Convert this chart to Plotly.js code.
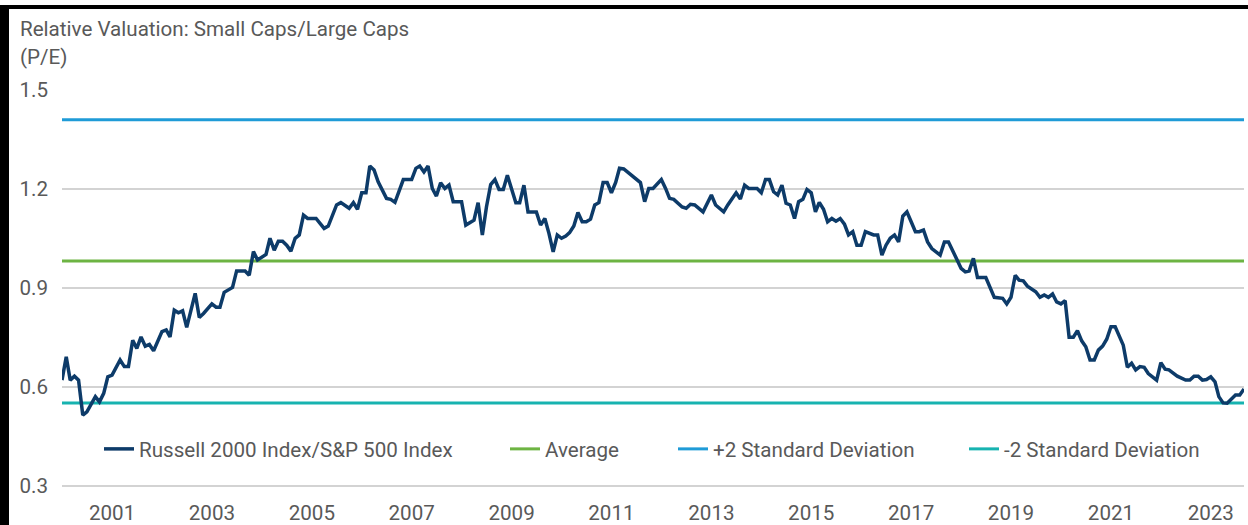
<!DOCTYPE html>
<html>
<head>
<meta charset="utf-8">
<script src="https://cdn.plot.ly/plotly-3.0.1.min.js"></script>
<style>
  html, body { margin: 0; padding: 0; background: #ffffff; }
  #wrap { position: relative; width: 1248px; height: 525px; overflow: hidden; }
  #chart { position: absolute; left: 0; top: 0; width: 1248px; height: 525px; }
  .frame { position: absolute; background: #000; }
</style>
</head>
<body>
<div id="wrap">
  <div id="chart"></div>
  <div class="frame" style="left:0;top:5px;width:1248px;height:4px;"></div>
  <div class="frame" style="left:0;top:5px;width:9px;height:520px;"></div>
</div>
<script>
var dates = [
  '2000-01','2000-02','2000-03','2000-04','2000-05','2000-06','2000-07','2000-09','2000-10','2000-11','2000-12',
  '2001-01','2001-03','2001-04','2001-05','2001-06','2001-07','2001-08','2001-09','2001-10','2001-11',
  '2002-01','2002-02','2002-03','2002-04','2002-05','2002-06','2002-07','2002-09','2002-10','2002-11',
  '2003-01','2003-02','2003-03','2003-04','2003-06','2003-07','2003-09','2003-10','2003-11','2003-12',
  '2004-01','2004-02','2004-03','2004-04','2004-05','2004-06','2004-07','2004-08','2004-09','2004-10','2004-11','2004-12',
  '2005-02','2005-04','2005-05','2005-07','2005-08','2005-10','2005-11','2005-12',
  '2006-01','2006-02','2006-03','2006-04','2006-05','2006-07','2006-08','2006-09','2006-11',
  '2007-01','2007-02','2007-03','2007-04','2007-05','2007-06','2007-07','2007-08','2007-09','2007-10','2007-11',
  '2008-01','2008-02','2008-04','2008-05','2008-06','2008-07','2008-08','2008-09','2008-10','2008-11','2008-12',
  '2009-01','2009-02','2009-03','2009-04','2009-05','2009-07','2009-08','2009-09','2009-10','2009-11','2009-12',
  '2010-01','2010-02','2010-03','2010-04','2010-05','2010-06','2010-07','2010-08','2010-09','2010-10','2010-11','2010-12',
  '2011-01','2011-02','2011-03','2011-04','2011-08','2011-09','2011-10','2011-11',
  '2012-01','2012-02','2012-03','2012-04','2012-06','2012-07','2012-08','2012-09','2012-11',
  '2013-01','2013-02','2013-04','2013-05','2013-07','2013-08','2013-09','2013-10','2013-12',
  '2014-01','2014-02','2014-03','2014-04','2014-05','2014-06','2014-07','2014-08','2014-09','2014-10','2014-11','2014-12',
  '2015-01','2015-02','2015-03','2015-04','2015-05','2015-06','2015-07','2015-08','2015-09','2015-10','2015-11','2015-12',
  '2016-01','2016-02','2016-04','2016-05','2016-06','2016-07','2016-08','2016-09','2016-10','2016-11','2016-12',
  '2017-01','2017-02','2017-03','2017-04','2017-05','2017-06','2017-08','2017-09','2017-10','2017-11','2017-12',
  '2018-01','2018-02','2018-03','2018-04','2018-05','2018-07','2018-08','2018-09','2018-11','2018-12',
  '2019-01','2019-02','2019-03','2019-04','2019-05','2019-07','2019-08','2019-09','2019-10','2019-11','2019-12',
  '2020-01','2020-02','2020-03','2020-04','2020-05','2020-06','2020-07','2020-08','2020-09','2020-10','2020-11','2020-12',
  '2021-01','2021-02','2021-03','2021-04','2021-05','2021-06','2021-07','2021-08','2021-09','2021-10','2021-12',
  '2022-01','2022-02','2022-03','2022-05','2022-07','2022-08','2022-09','2022-10','2022-11','2022-12',
  '2023-01','2023-02','2023-03','2023-04','2023-05','2023-07','2023-08','2023-09'
];
var ratio = [
  0.621,0.692,0.621,0.633,0.621,0.515,0.525,0.571,0.555,0.581,0.631,
  0.636,0.682,0.662,0.662,0.742,0.717,0.752,0.724,0.729,0.710,
  0.768,0.773,0.752,0.833,0.825,0.831,0.781,0.884,0.811,0.823,
  0.852,0.842,0.842,0.887,0.902,0.952,0.952,0.939,1.011,0.985,
  0.995,1.002,1.051,1.015,1.042,1.042,1.030,1.012,1.051,1.061,1.121,1.111,
  1.111,1.081,1.088,1.152,1.159,1.142,1.159,1.139,
  1.189,1.189,1.270,1.258,1.222,1.172,1.169,1.160,1.229,
  1.229,1.263,1.270,1.252,1.270,1.202,1.179,1.219,1.202,1.212,1.162,
  1.162,1.091,1.106,1.159,1.061,1.146,1.214,1.229,1.199,1.199,1.242,
  1.202,1.159,1.159,1.212,1.131,1.131,1.091,1.111,1.066,1.010,1.061,
  1.051,1.058,1.068,1.088,1.129,1.101,1.101,1.109,1.152,1.159,1.220,1.220,
  1.189,1.220,1.263,1.261,1.220,1.162,1.202,1.202,
  1.229,1.202,1.172,1.169,1.146,1.142,1.154,1.152,1.131,
  1.182,1.152,1.131,1.152,1.189,1.170,1.212,1.202,1.202,
  1.189,1.229,1.229,1.192,1.182,1.212,1.157,1.152,1.111,1.162,1.169,1.199,
  1.189,1.131,1.160,1.139,1.101,1.111,1.103,1.111,1.094,1.061,1.071,1.030,
  1.030,1.071,1.061,1.061,1.000,1.030,1.051,1.061,1.040,1.118,1.131,
  1.101,1.071,1.071,1.076,1.040,1.020,1.000,1.040,1.040,1.015,0.990,
  0.960,0.949,0.952,0.990,0.932,0.932,0.904,0.872,0.869,0.852,
  0.872,0.939,0.924,0.922,0.906,0.889,0.872,0.879,0.872,0.882,0.858,
  0.852,0.862,0.751,0.751,0.771,0.740,0.722,0.682,0.682,0.712,0.724,0.745,
  0.783,0.783,0.758,0.727,0.660,0.672,0.652,0.662,0.660,0.641,0.621,
  0.674,0.654,0.652,0.633,0.621,0.621,0.633,0.633,0.621,0.623,
  0.631,0.616,0.571,0.552,0.551,0.576,0.576,0.594
];
var averageValue = 0.982;
var plus2SD = 1.410;
var minus2SD = 0.552;

var seriesNames = ['Russell 2000 Index/S&P 500 Index', 'Average', '+2 Standard Deviation', '-2 Standard Deviation'];
var yTickVals = [0.3, 0.6, 0.9, 1.2, 1.5];
var yTickText = ['0.3', '0.6', '0.9', '1.2', '1.5'];
var xTickVals = ['2001-01-01','2003-01-01','2005-01-01','2007-01-01','2009-01-01','2011-01-01','2013-01-01','2015-01-01','2017-01-01','2019-01-01','2021-01-01','2023-01-01'];
var xTickText = ['2001','2003','2005','2007','2009','2011','2013','2015','2017','2019','2021','2023'];

var span = [dates[0], dates[dates.length - 1]];
var textColor = '#595959';
var font = 'Roboto, "Noto Sans", sans-serif';
var fs = 20.6;

var traces = [
  { x: span, y: [plus2SD, plus2SD], name: seriesNames[2], mode: 'lines', legend: 'legend3',
    line: { color: '#1f9bd7', width: 3 } },
  { x: span, y: [averageValue, averageValue], name: seriesNames[1], mode: 'lines', legend: 'legend2',
    line: { color: '#6db443', width: 3 } },
  { x: span, y: [minus2SD, minus2SD], name: seriesNames[3], mode: 'lines', legend: 'legend4',
    line: { color: '#17b3b0', width: 3 } },
  { x: dates, y: ratio, name: seriesNames[0], mode: 'lines', legend: 'legend',
    line: { color: '#0d3b69', width: 3.5 } }
];

function legendAt(x) {
  return { orientation: 'h', x: x, xanchor: 'left', y: 0.107, yanchor: 'middle',
    xref: 'paper', yref: 'paper', bgcolor: 'rgba(0,0,0,0)', itemwidth: 30,
    font: { family: font, size: fs, color: textColor } };
}

var layout = {
  width: 1248, height: 525,
  margin: { l: 62, r: 4, t: 90, b: 33 },
  paper_bgcolor: '#ffffff', plot_bgcolor: '#ffffff',
  font: { family: font, size: fs, color: textColor },
  title: { text: 'Relative Valuation: Small Caps/Large Caps', x: 20 / 1248, xanchor: 'left',
    xref: 'container', y: 1 - 29 / 525, yanchor: 'middle', yref: 'container',
    font: { family: font, size: fs, color: textColor } },
  annotations: [
    { text: '(P/E)', xref: 'paper', yref: 'paper', x: (18 - 62) / 1182, xanchor: 'left',
      y: (492 - 57) / 402, yanchor: 'middle', showarrow: false,
      font: { family: font, size: fs, color: textColor } }
  ],
  xaxis: { type: 'date', range: ['2000-01-01', '2023-09-01'], tickvals: xTickVals, ticktext: xTickText,
    showgrid: false, zeroline: false, showline: false, ticks: '', ticklabelstandoff: 6,
    tickfont: { family: font, size: fs, color: textColor } },
  yaxis: { range: [0.3 - 6 / 330, 1.5005], tickvals: yTickVals, ticktext: yTickText,
    showgrid: true, gridcolor: '#d3d3d3', gridwidth: 1.5, zeroline: false, showline: false,
    ticks: '', ticklabelstandoff: 13, tickfont: { family: font, size: fs, color: textColor } },
  legend: legendAt((99 - 62) / 1182),
  legend2: legendAt((505 - 62) / 1182),
  legend3: legendAt((673 - 62) / 1182),
  legend4: legendAt((964 - 62) / 1182),
  showlegend: true
};

Plotly.newPlot('chart', traces, layout, { staticPlot: true, displayModeBar: false });
</script>
</body>
</html>
